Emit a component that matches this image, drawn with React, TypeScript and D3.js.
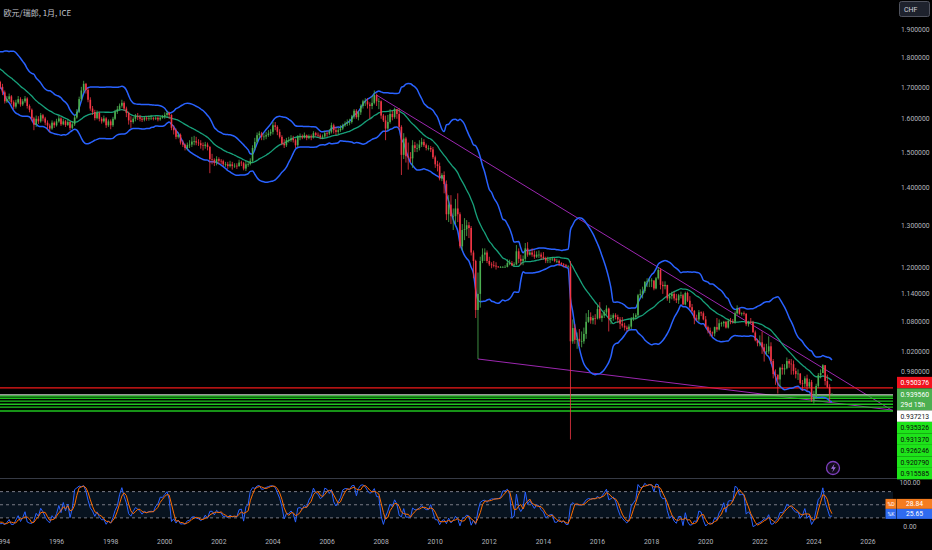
import { useRef, useEffect } from "react";
import type { FC } from "react";
import * as d3 from "d3";

// Monthly EUR/CHF bars, Jan 1991 .. Sep 2024 (open = previous close)
const startYear = 1991;

const closes = [
  1.780, 1.762, 1.781, 1.798, 1.790, 1.802, 1.810, 1.799, 1.788, 1.781, 1.800, 1.812, // 1991
  1.822, 1.831, 1.820, 1.808, 1.801, 1.798, 1.790, 1.781, 1.760, 1.772, 1.781, 1.790, // 1992
  1.790, 1.781, 1.770, 1.779, 1.761, 1.742, 1.731, 1.749, 1.722, 1.710, 1.718, 1.702, // 1993
  1.684, 1.655, 1.662, 1.671, 1.652, 1.638, 1.651, 1.662, 1.645, 1.655, 1.664, 1.640, // 1994
  1.628, 1.601, 1.582, 1.600, 1.592, 1.611, 1.601, 1.588, 1.579, 1.570, 1.588, 1.580, // 1995
  1.592, 1.601, 1.583, 1.592, 1.581, 1.590, 1.572, 1.583, 1.604, 1.622, 1.662, 1.690, // 1996
  1.712, 1.692, 1.660, 1.632, 1.621, 1.602, 1.618, 1.600, 1.592, 1.601, 1.580, 1.592, // 1997
  1.580, 1.600, 1.622, 1.630, 1.641, 1.650, 1.632, 1.618, 1.595, 1.590, 1.600, 1.608, // 1998
  1.605, 1.600, 1.597, 1.603, 1.600, 1.602, 1.603, 1.600, 1.603, 1.598, 1.603, 1.607, // 1999
  1.612, 1.618, 1.612, 1.572, 1.565, 1.545, 1.551, 1.528, 1.522, 1.512, 1.521, 1.522, // 2000
  1.531, 1.532, 1.528, 1.526, 1.520, 1.518, 1.522, 1.515, 1.480, 1.478, 1.469, 1.480, // 2001
  1.475, 1.474, 1.465, 1.465, 1.460, 1.465, 1.460, 1.461, 1.460, 1.470, 1.468, 1.453, // 2002
  1.465, 1.466, 1.475, 1.512, 1.530, 1.550, 1.555, 1.545, 1.546, 1.550, 1.555, 1.560, // 2003
  1.580, 1.575, 1.560, 1.545, 1.525, 1.520, 1.535, 1.535, 1.540, 1.535, 1.520, 1.545, // 2004
  1.546, 1.543, 1.550, 1.542, 1.546, 1.544, 1.556, 1.551, 1.549, 1.544, 1.546, 1.556, // 2005
  1.555, 1.560, 1.580, 1.565, 1.560, 1.565, 1.570, 1.580, 1.585, 1.590, 1.590, 1.607, // 2006
  1.625, 1.605, 1.620, 1.640, 1.655, 1.655, 1.645, 1.640, 1.650, 1.675, 1.655, 1.655, // 2007
  1.610, 1.595, 1.570, 1.590, 1.615, 1.605, 1.630, 1.615, 1.575, 1.492, 1.540, 1.488, // 2008
  1.485, 1.482, 1.520, 1.512, 1.512, 1.522, 1.530, 1.520, 1.512, 1.512, 1.508, 1.485, // 2009
  1.465, 1.460, 1.425, 1.435, 1.410, 1.330, 1.355, 1.325, 1.325, 1.345, 1.330, 1.250, // 2010
  1.290, 1.292, 1.302, 1.295, 1.235, 1.215, 1.105, 1.140, 1.215, 1.230, 1.235, 1.215, // 2011
  1.207, 1.205, 1.204, 1.202, 1.201, 1.201, 1.201, 1.201, 1.210, 1.210, 1.205, 1.207, // 2012
  1.238, 1.220, 1.215, 1.220, 1.245, 1.230, 1.235, 1.230, 1.225, 1.230, 1.230, 1.225, // 2013
  1.222, 1.216, 1.218, 1.220, 1.220, 1.215, 1.215, 1.210, 1.207, 1.205, 1.202, 1.202, // 2014
  1.040, 1.067, 1.043, 1.045, 1.040, 1.040, 1.055, 1.080, 1.090, 1.083, 1.088, 1.087, // 2015
  1.107, 1.088, 1.093, 1.100, 1.108, 1.086, 1.088, 1.094, 1.090, 1.085, 1.076, 1.072, // 2016
  1.068, 1.065, 1.070, 1.086, 1.090, 1.094, 1.137, 1.140, 1.146, 1.167, 1.168, 1.170, // 2017
  1.170, 1.152, 1.175, 1.194, 1.160, 1.157, 1.160, 1.130, 1.135, 1.140, 1.130, 1.126, // 2018
  1.137, 1.137, 1.117, 1.142, 1.125, 1.111, 1.103, 1.087, 1.085, 1.100, 1.098, 1.085, // 2019
  1.069, 1.062, 1.058, 1.056, 1.069, 1.064, 1.077, 1.077, 1.080, 1.068, 1.082, 1.081, // 2020
  1.080, 1.098, 1.108, 1.097, 1.098, 1.097, 1.075, 1.080, 1.079, 1.058, 1.042, 1.036, // 2021
  1.038, 1.028, 1.020, 1.020, 1.030, 1.001, 0.976, 0.975, 0.966, 0.988, 0.985, 0.987, // 2022
  1.001, 0.996, 0.995, 0.982, 0.976, 0.977, 0.959, 0.958, 0.968, 0.953, 0.961, 0.929, // 2023
  0.934, 0.954, 0.974, 0.978, 0.993, 0.963, 0.952, 0.9393, 0.93956, // 2024
];

const highs = [
  1.792, 1.785, 1.790, 1.808, 1.805, 1.810, 1.820, 1.815, 1.802, 1.795, 1.808, 1.822,
  1.832, 1.842, 1.836, 1.825, 1.815, 1.810, 1.805, 1.795, 1.788, 1.782, 1.792, 1.800,
  1.802, 1.795, 1.788, 1.790, 1.782, 1.768, 1.750, 1.758, 1.752, 1.730, 1.725, 1.722,
  1.712, 1.690, 1.672, 1.680, 1.675, 1.658, 1.660, 1.672, 1.668, 1.662, 1.672, 1.668,
  1.645, 1.632, 1.606, 1.610, 1.608, 1.618, 1.615, 1.606, 1.595, 1.585, 1.595, 1.592,
  1.600, 1.610, 1.605, 1.600, 1.596, 1.598, 1.592, 1.592, 1.612, 1.630, 1.670, 1.702,
  1.722, 1.715, 1.698, 1.668, 1.640, 1.628, 1.626, 1.622, 1.605, 1.610, 1.605, 1.598,
  1.598, 1.606, 1.628, 1.640, 1.648, 1.660, 1.655, 1.638, 1.622, 1.608, 1.605, 1.615,
  1.618, 1.612, 1.605, 1.608, 1.608, 1.610, 1.612, 1.605, 1.608, 1.608, 1.608, 1.612,
  1.620, 1.625, 1.622, 1.614, 1.580, 1.570, 1.558, 1.555, 1.535, 1.525, 1.528, 1.535,
  1.545, 1.548, 1.545, 1.538, 1.535, 1.528, 1.530, 1.528, 1.518, 1.495, 1.482, 1.488,
  1.485, 1.480, 1.478, 1.472, 1.472, 1.475, 1.472, 1.468, 1.468, 1.478, 1.475, 1.472,
  1.475, 1.472, 1.482, 1.520, 1.542, 1.558, 1.562, 1.560, 1.555, 1.560, 1.565, 1.568,
  1.590, 1.590, 1.580, 1.568, 1.550, 1.538, 1.542, 1.545, 1.550, 1.548, 1.540, 1.550,
  1.555, 1.552, 1.558, 1.552, 1.552, 1.552, 1.562, 1.560, 1.558, 1.555, 1.552, 1.562,
  1.562, 1.568, 1.588, 1.585, 1.575, 1.572, 1.580, 1.585, 1.592, 1.598, 1.600, 1.612,
  1.630, 1.630, 1.625, 1.645, 1.660, 1.665, 1.665, 1.652, 1.672, 1.690, 1.680, 1.665,
  1.658, 1.615, 1.610, 1.612, 1.630, 1.625, 1.635, 1.630, 1.633, 1.580, 1.556, 1.545,
  1.528, 1.500, 1.535, 1.530, 1.525, 1.535, 1.542, 1.538, 1.525, 1.520, 1.518, 1.515,
  1.490, 1.475, 1.470, 1.440, 1.445, 1.420, 1.380, 1.380, 1.345, 1.370, 1.385, 1.335,
  1.305, 1.320, 1.315, 1.310, 1.300, 1.240, 1.218, 1.188, 1.225, 1.245, 1.245, 1.240,
  1.225, 1.212, 1.215, 1.212, 1.203, 1.203, 1.203, 1.205, 1.219, 1.218, 1.215, 1.212,
  1.253, 1.245, 1.230, 1.228, 1.258, 1.260, 1.242, 1.245, 1.240, 1.238, 1.240, 1.235,
  1.236, 1.225, 1.225, 1.222, 1.225, 1.222, 1.220, 1.218, 1.212, 1.210, 1.208, 1.205,
  1.215, 1.085, 1.075, 1.058, 1.065, 1.060, 1.068, 1.098, 1.105, 1.100, 1.093, 1.096,
  1.115, 1.122, 1.098, 1.105, 1.115, 1.110, 1.095, 1.098, 1.098, 1.095, 1.090, 1.090,
  1.078, 1.072, 1.075, 1.090, 1.098, 1.098, 1.140, 1.150, 1.156, 1.168, 1.175, 1.175,
  1.175, 1.170, 1.178, 1.200, 1.198, 1.168, 1.168, 1.160, 1.142, 1.145, 1.145, 1.140,
  1.140, 1.145, 1.140, 1.145, 1.145, 1.135, 1.118, 1.105, 1.095, 1.105, 1.102, 1.102,
  1.092, 1.072, 1.068, 1.060, 1.070, 1.088, 1.085, 1.080, 1.082, 1.082, 1.086, 1.088,
  1.086, 1.102, 1.115, 1.110, 1.100, 1.102, 1.098, 1.082, 1.088, 1.082, 1.062, 1.045,
  1.052, 1.060, 1.035, 1.035, 1.050, 1.038, 1.005, 0.985, 0.972, 0.990, 0.995, 0.995,
  1.008, 1.005, 1.005, 1.002, 0.988, 0.985, 0.978, 0.965, 0.972, 0.975, 0.967, 0.965,
  0.945, 0.958, 0.978, 0.985, 0.995, 0.990, 0.975, 0.957, 0.9402,
];

const lows = [
  1.768, 1.755, 1.758, 1.776, 1.782, 1.784, 1.796, 1.790, 1.780, 1.772, 1.775, 1.795,
  1.806, 1.815, 1.812, 1.800, 1.792, 1.788, 1.782, 1.770, 1.748, 1.752, 1.764, 1.772,
  1.778, 1.772, 1.762, 1.765, 1.755, 1.735, 1.725, 1.728, 1.718, 1.702, 1.705, 1.695,
  1.675, 1.648, 1.650, 1.655, 1.645, 1.630, 1.632, 1.646, 1.638, 1.640, 1.650, 1.632,
  1.620, 1.592, 1.565, 1.575, 1.584, 1.588, 1.592, 1.580, 1.568, 1.560, 1.566, 1.572,
  1.576, 1.588, 1.578, 1.580, 1.575, 1.578, 1.565, 1.568, 1.578, 1.600, 1.618, 1.655,
  1.682, 1.680, 1.652, 1.625, 1.612, 1.595, 1.598, 1.592, 1.585, 1.588, 1.572, 1.575,
  1.568, 1.575, 1.596, 1.615, 1.625, 1.635, 1.625, 1.605, 1.582, 1.572, 1.585, 1.592,
  1.596, 1.592, 1.590, 1.592, 1.594, 1.594, 1.596, 1.595, 1.596, 1.592, 1.594, 1.600,
  1.600, 1.605, 1.600, 1.565, 1.552, 1.538, 1.540, 1.522, 1.515, 1.505, 1.505, 1.512,
  1.515, 1.520, 1.520, 1.518, 1.510, 1.505, 1.510, 1.505, 1.440, 1.465, 1.460, 1.462,
  1.465, 1.466, 1.460, 1.458, 1.452, 1.456, 1.450, 1.455, 1.452, 1.458, 1.460, 1.448,
  1.446, 1.458, 1.462, 1.470, 1.505, 1.525, 1.540, 1.535, 1.535, 1.538, 1.545, 1.548,
  1.552, 1.565, 1.550, 1.540, 1.520, 1.512, 1.515, 1.528, 1.530, 1.528, 1.512, 1.515,
  1.535, 1.538, 1.540, 1.535, 1.538, 1.535, 1.540, 1.546, 1.544, 1.538, 1.538, 1.542,
  1.545, 1.550, 1.555, 1.555, 1.550, 1.552, 1.560, 1.565, 1.575, 1.578, 1.580, 1.585,
  1.600, 1.600, 1.595, 1.612, 1.632, 1.640, 1.632, 1.600, 1.630, 1.645, 1.640, 1.630,
  1.600, 1.590, 1.535, 1.565, 1.585, 1.595, 1.600, 1.600, 1.565, 1.435, 1.480, 1.470,
  1.450, 1.470, 1.455, 1.500, 1.500, 1.505, 1.515, 1.515, 1.505, 1.505, 1.500, 1.480,
  1.455, 1.445, 1.420, 1.418, 1.385, 1.315, 1.310, 1.305, 1.290, 1.305, 1.310, 1.245,
  1.240, 1.265, 1.275, 1.270, 1.228, 1.175, 1.088, 1.005, 1.110, 1.210, 1.215, 1.210,
  1.203, 1.198, 1.200, 1.195, 1.199, 1.199, 1.200, 1.200, 1.200, 1.205, 1.203, 1.203,
  1.205, 1.210, 1.205, 1.205, 1.215, 1.225, 1.228, 1.225, 1.220, 1.222, 1.222, 1.218,
  1.218, 1.210, 1.210, 1.210, 1.215, 1.212, 1.210, 1.203, 1.205, 1.200, 1.200, 1.200,
  0.860, 1.035, 1.035, 1.025, 1.030, 1.028, 1.035, 1.045, 1.078, 1.076, 1.075, 1.074,
  1.085, 1.085, 1.080, 1.088, 1.095, 1.060, 1.075, 1.082, 1.085, 1.078, 1.065, 1.068,
  1.062, 1.060, 1.062, 1.065, 1.082, 1.085, 1.090, 1.130, 1.130, 1.142, 1.155, 1.155,
  1.155, 1.148, 1.150, 1.172, 1.150, 1.140, 1.150, 1.125, 1.120, 1.128, 1.125, 1.120,
  1.118, 1.130, 1.115, 1.115, 1.122, 1.108, 1.100, 1.075, 1.082, 1.080, 1.092, 1.083,
  1.068, 1.056, 1.050, 1.050, 1.050, 1.059, 1.062, 1.070, 1.070, 1.066, 1.066, 1.075,
  1.076, 1.076, 1.095, 1.095, 1.093, 1.093, 1.071, 1.070, 1.076, 1.058, 1.040, 1.030,
  1.030, 1.015, 1.000, 1.012, 1.015, 0.995, 0.968, 0.956, 0.940, 0.952, 0.975, 0.975,
  0.985, 0.988, 0.975, 0.975, 0.968, 0.965, 0.956, 0.945, 0.952, 0.945, 0.950, 0.925,
  0.922, 0.930, 0.950, 0.968, 0.978, 0.955, 0.950, 0.925, 0.9390,
];

const priceTicks = [1.9, 1.8, 1.7, 1.6, 1.5, 1.4, 1.3, 1.2, 1.14, 1.08, 1.02, 0.98];
const yearTicks = [1994, 1996, 1998, 2000, 2002, 2004, 2006, 2008, 2010, 2012, 2014, 2016, 2018, 2020, 2022, 2024, 2026];
const oscTicks = [100, 0];
const oscBands = [80, 50, 20];

// user horizontal levels
const redLevel = 0.950376;
const greyLevel = 0.937213;
const greenLevels = [0.935326, 0.93137, 0.926246, 0.92079, 0.915585, 0.9088];
const countdown = "29d 15h";

// trend lines (anchor month, price)
const upperTrend: [string, number][] = [["2007-11", 1.675], ["2018-04", 1.2]];
const lowerTrend: [string, number][] = [["2011-08", 1.005], ["2023-12", 0.928]];

// stochastic readouts
const lastD = 28.84;
const lastK = 25.65;

const W = 932;
const H = 550;
const plotRight = 893;
const paneBottom = 478;
const font = "Roboto, 'Noto Sans', sans-serif";

function sma(src: (number | null)[], len: number): (number | null)[] {
  return src.map((_, i) => {
    if (i < len - 1) return null;
    const win = src.slice(i - len + 1, i + 1);
    if (win.some((v) => v == null)) return null;
    return d3.mean(win as number[]) ?? null;
  });
}

const App: FC = () => {
  const ref = useRef<SVGSVGElement | null>(null);

  useEffect(() => {
    document.body.style.margin = "0";
    document.body.style.background = "#000";
    if (!ref.current) return;
    const svg = d3.select(ref.current);
    svg.selectAll("*").remove();

    const bars = closes.map((c, i) => {
      const open = i === 0 ? c : closes[i - 1];
      return {
        date: new Date(Date.UTC(startYear, i, 1)),
        open,
        close: c,
        high: Math.max(highs[i], open, c),
        low: Math.min(lows[i], open, c),
      };
    });

    const x = d3
      .scaleUtc()
      .domain([new Date(Date.UTC(1994, 0, 1)), new Date(Date.UTC(2026, 0, 1))])
      .range([2.5, 868]);
    const y = d3.scaleLog().domain([1.9, 0.98]).range([30, 372]);
    const yo = d3.scaleLinear().domain([0, 100]).range([526.6, 482.9]);
    const monthDate = (s: string) => {
      const [yy, mm] = s.split("-").map(Number);
      return new Date(Date.UTC(yy, mm - 1, 1));
    };

    svg.append("rect").attr("width", W).attr("height", H).attr("fill", "#000");

    const defs = svg.append("defs");
    defs.append("clipPath").attr("id", "clipPrice")
      .append("rect").attr("x", 0).attr("y", 0).attr("width", plotRight).attr("height", paneBottom);
    defs.append("clipPath").attr("id", "clipOsc")
      .append("rect").attr("x", 0).attr("y", paneBottom + 1).attr("width", plotRight).attr("height", 54);

    const price = svg.append("g").attr("clip-path", "url(#clipPrice)");

    // Bollinger bands 20, 2
    const basis = sma(closes, 20);
    const dev = closes.map((_, i) => {
      if (i < 19) return null;
      const win = closes.slice(i - 19, i + 1);
      const m = d3.mean(win) as number;
      return Math.sqrt(d3.mean(win, (v) => (v - m) ** 2) as number);
    });
    const bandLine = (k: number) =>
      d3
        .line<number>()
        .defined((_, i) => basis[i] != null)
        .x((_, i) => x(bars[i].date))
        .y((_, i) => y((basis[i] as number) + k * (dev[i] as number)))
        .curve(d3.curveMonotoneX);

    // trend lines
    const trend = (pts: [string, number][]) => {
      const [a, b] = pts.map(([d, p]) => [x(monthDate(d)), y(p)]);
      const slope = (b[1] - a[1]) / (b[0] - a[0]);
      return [a, [plotRight, a[1] + (plotRight - a[0]) * slope]];
    };
    [upperTrend, lowerTrend].forEach((t) => {
      price.append("path")
        .attr("d", d3.line()(trend(t) as [number, number][]))
        .attr("stroke", "#9c27b0").attr("stroke-width", 1).attr("fill", "none");
    });

    // horizontal levels
    const hline = (v: number, color: string, w: number) =>
      price.append("line")
        .attr("x1", 0).attr("x2", plotRight)
        .attr("y1", y(v)).attr("y2", y(v))
        .attr("stroke", color).attr("stroke-width", w);
    hline(redLevel, "#f01a1a", 1.2);
    hline(greyLevel, "#c9c9c9", 1.4);
    greenLevels.forEach((v) => hline(v, "#1fc41f", 1.4));

    price.append("path").datum(closes).attr("d", bandLine(2)).attr("fill", "none").attr("stroke", "#2962ff").attr("stroke-width", 1.5);
    price.append("path").datum(closes).attr("d", bandLine(-2)).attr("fill", "none").attr("stroke", "#2962ff").attr("stroke-width", 1.5);
    price.append("path").datum(closes).attr("d", bandLine(0)).attr("fill", "none").attr("stroke", "#17a07a").attr("stroke-width", 1.3);

    // candles
    const up = "#4caf50";
    const dn = "#f23645";
    const cg = price.append("g");
    cg.selectAll("line")
      .data(bars)
      .join("line")
      .attr("x1", (d) => x(d.date)).attr("x2", (d) => x(d.date))
      .attr("y1", (d) => y(d.high)).attr("y2", (d) => y(d.low))
      .attr("stroke", (d) => (d.close >= d.open ? up : dn))
      .attr("stroke-width", 0.8);
    cg.selectAll("rect")
      .data(bars)
      .join("rect")
      .attr("x", (d) => x(d.date) - 0.8)
      .attr("width", 1.6)
      .attr("y", (d) => y(Math.max(d.open, d.close)))
      .attr("height", (d) => Math.max(0.7, Math.abs(y(d.open) - y(d.close))))
      .attr("fill", (d) => (d.close >= d.open ? up : dn));

    // lightning icon
    const icon = svg.append("g");
    icon.append("circle").attr("cx", 833).attr("cy", 468).attr("r", 6.5)
      .attr("fill", "#120b1a").attr("stroke", "#7e3fbf").attr("stroke-width", 1.3);
    icon.append("path").attr("d", "M834.6 463.6 L831 468.8 L833.4 468.8 L832.2 472.6 L835.8 467.2 L833.4 467.2 Z")
      .attr("fill", "#a070e0");

    // pane separator
    svg.append("line").attr("x1", 0).attr("x2", W).attr("y1", paneBottom + 0.5).attr("y2", paneBottom + 0.5)
      .attr("stroke", "#363a45").attr("stroke-width", 1);

    // stochastic pane (14, 1, 3)
    const osc = svg.append("g").attr("clip-path", "url(#clipOsc)");
    osc.append("rect").attr("x", 0).attr("width", plotRight)
      .attr("y", yo(oscBands[0])).attr("height", yo(oscBands[2]) - yo(oscBands[0]))
      .attr("fill", "#08131f");
    oscBands.forEach((b) => {
      osc.append("line").attr("x1", 0).attr("x2", plotRight).attr("y1", yo(b)).attr("y2", yo(b))
        .attr("stroke", "#787b86").attr("stroke-dasharray", "3,3").attr("stroke-width", 1);
    });
    const len = 14;
    const k: (number | null)[] = bars.map((b, i) => {
      if (i < len - 1) return null;
      const win = bars.slice(i - len + 1, i + 1);
      const hh = d3.max(win, (w) => w.high) as number;
      const ll = d3.min(win, (w) => w.low) as number;
      return hh === ll ? 50 : ((b.close - ll) / (hh - ll)) * 100;
    });
    const d = sma(k, 3);
    const oscLine = (s: (number | null)[]) =>
      d3.line<number | null>()
        .defined((v) => v != null)
        .x((_, i) => x(bars[i].date))
        .y((v) => yo(v as number))(s);
    osc.append("path").attr("d", oscLine(k)).attr("fill", "none").attr("stroke", "#2962ff").attr("stroke-width", 1);
    osc.append("path").attr("d", oscLine(d)).attr("fill", "none").attr("stroke", "#ff6d00").attr("stroke-width", 1);

    // title
    svg.append("text").attr("x", 3.5).attr("y", 15.5)
      .attr("font-family", "'Noto Sans CJK SC', sans-serif").attr("font-size", 8)
      .attr("fill", "#c3c6ce").text("欧元/瑞郎, 1月, ICE");

    // currency box
    svg.append("rect").attr("x", 899.5).attr("y", 1.5).attr("width", 30).attr("height", 15).attr("rx", 2)
      .attr("fill", "#1e222d").attr("stroke", "#50535e").attr("stroke-width", 1);
    svg.append("text").attr("x", 904).attr("y", 12).attr("font-family", font).attr("font-size", 7)
      .attr("fill", "#d1d4dc").text("CHF");

    // price axis
    const axisText = svg.append("g").attr("font-family", font).attr("font-size", 6.8).attr("fill", "#b2b5be");
    priceTicks.forEach((t) => {
      axisText.append("text").attr("x", 901).attr("y", y(t) + 2.4).text(t.toFixed(6));
    });

    // stacked level labels
    const boxX = 897;
    const boxW = W - boxX;
    let top = y(redLevel) - 11;
    const label = (lines: string[], bg: string, fg: string) => {
      const h = 11.5 * lines.length - (lines.length > 1 ? 1 : 0);
      if (top + 6 > paneBottom) return;
      svg.append("rect").attr("x", boxX).attr("y", top).attr("width", boxW).attr("height", h).attr("fill", bg);
      lines.forEach((s, i) => {
        svg.append("text").attr("x", boxX + 3.5).attr("y", top + 8.3 + i * 10.5)
          .attr("font-family", font).attr("font-size", 6.8).attr("fill", fg).text(s);
      });
      top += h;
    };
    label([redLevel.toFixed(6)], "#f2121e", "#fff");
    label([closes[closes.length - 1].toFixed(6), countdown], "#4caf50", "#fff");
    label([greyLevel.toFixed(6)], "#ffffff", "#131722");
    greenLevels.forEach((v) => label([v.toFixed(6)], "#1ee41a", "#0b0b0b"));

    // oscillator axis
    oscTicks.forEach((t) => {
      axisText.append("text").attr("x", 910).attr("y", yo(t) + 2.4).attr("text-anchor", "middle").text(t.toFixed(2));
    });
    const oscLabel = (tag: string, v: number, y0: number, bg: string) => {
      svg.append("rect").attr("x", 885.5).attr("y", y0).attr("width", 11).attr("height", 10).attr("fill", bg);
      svg.append("rect").attr("x", 897).attr("y", y0).attr("width", W - 897).attr("height", 10).attr("fill", bg);
      svg.append("text").attr("x", 891).attr("y", y0 + 7.3).attr("text-anchor", "middle")
        .attr("font-family", font).attr("font-size", 5.2).attr("fill", "#fff").text(tag);
      svg.append("text").attr("x", 914.5).attr("y", y0 + 7.5).attr("text-anchor", "middle")
        .attr("font-family", font).attr("font-size", 6.8).attr("fill", "#fff").text(v.toFixed(2));
    };
    const kTop = yo(lastK) - 6.5;
    oscLabel("%D", lastD, kTop - 10, "#f57c1f");
    oscLabel("%K", lastK, kTop, "#2f6bf0");

    // time axis
    yearTicks.forEach((t) => {
      axisText.append("text").attr("x", x(new Date(Date.UTC(t, 0, 1)))).attr("y", 544)
        .attr("text-anchor", "middle").text(String(t));
    });
  }, []);

  return <svg ref={ref} width={W} height={H} style={{ display: "block", position: "absolute", left: 0, top: 0 }} />;
};

export default App;
